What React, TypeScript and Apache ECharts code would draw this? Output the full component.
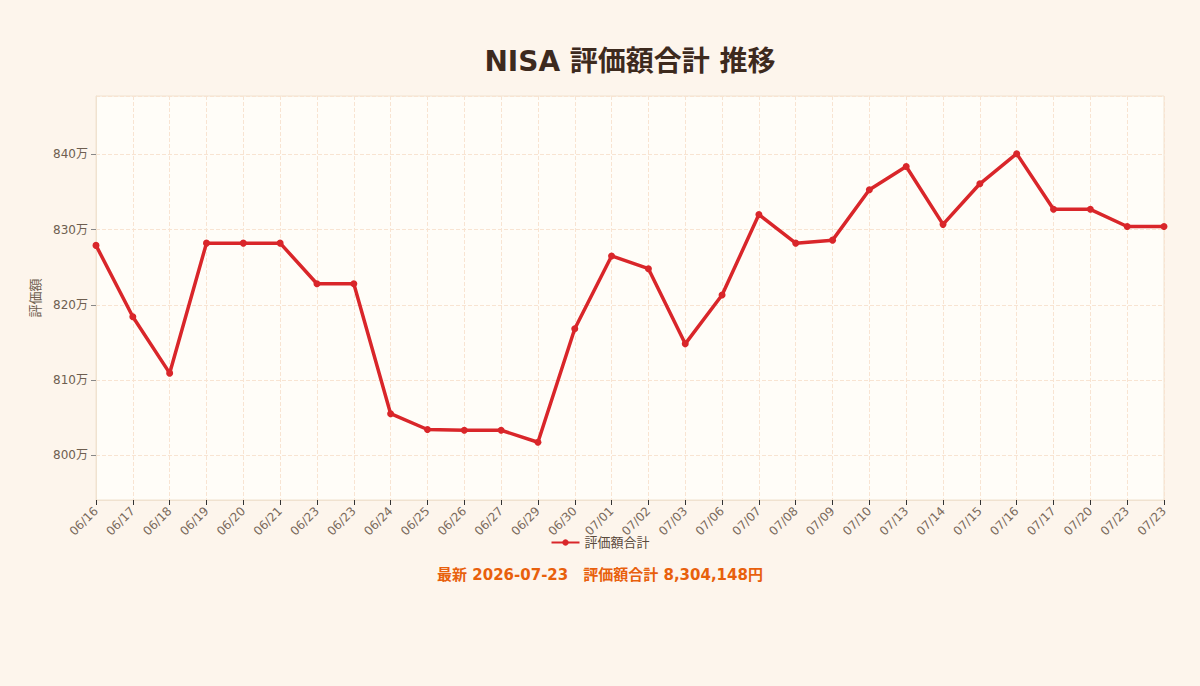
import React, { useEffect, useRef } from "react";
import * as echarts from "echarts";

const categories = [
  "06/16", "06/17", "06/18", "06/19", "06/20", "06/21", "06/23", "06/23", "06/24", "06/25",
  "06/26", "06/27", "06/29", "06/30", "07/01", "07/02", "07/03", "07/06", "07/07", "07/08",
  "07/09", "07/10", "07/13", "07/14", "07/15", "07/16", "07/17", "07/20", "07/23", "07/23",
];

const totalValues = [
  8279000, 8184000, 8109000, 8282000, 8282000, 8282000, 8228000, 8228000, 8055000, 8034000,
  8033000, 8033000, 8017000, 8168000, 8265000, 8248000, 8148000, 8213000, 8320000, 8282000,
  8286000, 8353000, 8384000, 8307000, 8361000, 8401000, 8327000, 8327000, 8304148, 8304148,
];

const titleText = "NISA 評価額合計 推移";
const seriesName = "評価額合計";
const yAxisName = "評価額";
const footerText = "最新 2026-07-23　評価額合計 8,304,148円";

const FONT = "'DejaVu Sans', 'Noto Sans CJK JP', sans-serif";

export default function App() {
  const ref = useRef<HTMLDivElement>(null);

  useEffect(() => {
    document.body.style.margin = "0";
    document.body.style.background = "#fdf5ec";
    const chart = echarts.init(ref.current!, null, { renderer: "svg" });
    chart.setOption({
      animation: false,
      backgroundColor: "#fdf5ec",
      textStyle: { fontFamily: FONT },
      title: {
        text: titleText,
        left: 625,
        textAlign: "center",
        top: 42,
        textStyle: { fontFamily: FONT, fontSize: 28, fontWeight: "bold", color: "#3d2a1e" },
      },
      legend: {
        data: [seriesName],
        left: "center",
        top: 531,
        itemWidth: 28,
        itemHeight: 8,
        textStyle: { fontFamily: FONT, fontSize: 13, color: "#5a4a3c" },
      },
      graphic: [
        {
          type: "text",
          left: "center",
          top: 567,
          style: {
            text: footerText,
            font: `bold 15px ${FONT}`,
            fill: "#e8600c",
          },
        },
      ],
      grid: {
        left: 96,
        right: 36,
        top: 96,
        bottom: 186,
        show: true,
        backgroundColor: "#fffdf8",
        borderColor: "#f0e2d0",
        borderWidth: 1,
      },
      xAxis: {
        type: "category",
        data: categories,
        boundaryGap: false,
        axisLine: { lineStyle: { color: "#f0e2d0", width: 1 } },
        axisTick: { show: true, lineStyle: { color: "#333333" }, length: 5 },
        axisLabel: {
          rotate: 45,
          interval: 0,
          fontFamily: FONT,
          fontSize: 12,
          color: "#7a6a5c",
          margin: 9,
        },
        splitLine: { show: true, lineStyle: { color: "#f8e4d2", type: "dashed" } },
      },
      yAxis: {
        type: "value",
        name: yAxisName,
        nameLocation: "middle",
        nameGap: 48,
        nameTextStyle: { fontFamily: FONT, fontSize: 13, color: "#6e5e50" },
        min: (v: { min: number; max: number }) => v.min - (v.max - v.min) * 0.2,
        max: (v: { min: number; max: number }) => v.max + (v.max - v.min) * 0.2,
        axisLine: { show: true, lineStyle: { color: "#f0e2d0" } },
        axisTick: { show: true, length: 5, lineStyle: { color: "#888888" } },
        axisLabel: {
          fontFamily: FONT,
          fontSize: 12,
          color: "#6e5e50",
          showMinLabel: false,
          showMaxLabel: false,
          formatter: (v: number) => `${Math.round(v / 10000)}万`,
        },
        splitLine: { show: true, lineStyle: { color: "#f8e4d2", type: "dashed" } },
      },
      series: [
        {
          name: seriesName,
          type: "line",
          data: totalValues,
          symbol: "circle",
          symbolSize: 7,
          showSymbol: true,
          itemStyle: { color: "#d9262a" },
          lineStyle: { color: "#d9262a", width: 3.5 },
        },
      ],
    });
    return () => chart.dispose();
  }, []);

  return <div ref={ref} style={{ width: 1200, height: 686, background: "#fdf5ec" }} />;
}
